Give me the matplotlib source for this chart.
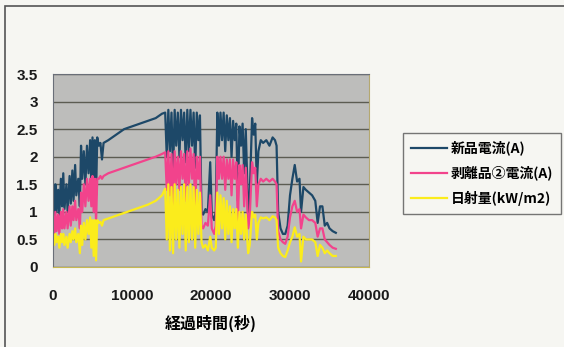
import numpy as np
import matplotlib.pyplot as plt
from matplotlib.patches import Rectangle

plt.rcParams['font.family'] = ['Noto Sans CJK JP', 'DejaVu Sans']

# 経過時間(秒)
t = [0, 150, 300, 450, 650, 800, 1000, 1150, 1300, 1450, 1700, 1850, 2100, 2250,
     2450, 2600, 2800, 2950, 3200, 3400, 3550, 3700, 3900, 4100, 4300, 4500, 4700,
     4850, 5000, 5150, 5300, 5450, 5600, 5800, 6000, 6200, 6400,
     7000, 8000, 9000, 10000, 11000, 12000, 13000, 13800, 14200,
     14400, 14600, 14800, 15000, 15200, 15400, 15600, 15800, 16000, 16200, 16400,
     16600, 16800, 17000, 17200, 17400, 17600, 17800, 18000, 18200, 18400, 18600,
     18800, 19000, 19300, 19600, 19900, 20100, 20400, 20600, 20800,
     21000, 21200, 21400, 21600, 21800, 22000, 22200, 22400, 22600, 22800, 23000,
     23200, 23400, 23600, 23800, 24000, 24200, 24400, 24700, 24900, 25200, 25400,
     25600, 25800, 26000, 26300, 26600, 27000, 27400, 27800, 28100, 28300, 28500,
     28800, 29100, 29400, 29700, 30000, 30300, 30600, 30900, 31200, 31400, 31700,
     32000, 32400, 32800, 33200, 33500, 33800, 34100, 34400, 34700, 35000, 35400,
     35800]

# 新品電流(A)
new_cur = [1.3, 0.9, 1.5, 1.0, 1.4, 0.95, 1.6, 1.1, 1.7, 1.05, 1.5, 1.0, 1.65, 1.15,
           1.75, 1.2, 1.85, 1.3, 1.6, 1.1, 2.2, 1.6, 2.1, 1.5, 2.2, 1.7, 2.3,
           1.5, 2.35, 1.6, 2.3, 1.3, 2.35, 2.2, 2.25, 1.95, 2.25,
           2.3, 2.4, 2.5, 2.55, 2.6, 2.65, 2.7, 2.78, 2.8,
           2.0, 2.85, 2.1, 2.8, 1.7, 2.85, 2.2, 2.8, 2.0, 2.85, 2.3,
           2.8, 1.9, 2.85, 2.1, 2.85, 2.2, 2.8, 1.8, 2.8, 2.3, 2.75,
           1.0, 0.95, 1.05, 1.0, 1.9, 0.95, 0.85, 1.0, 2.8,
           2.2, 2.8, 2.3, 2.8, 2.1, 2.75, 2.3, 2.7, 2.0, 2.65, 2.3,
           2.6, 1.2, 2.55, 2.2, 2.6, 1.7, 2.5, 1.0, 1.3, 2.7, 2.4,
           2.6, 1.5, 2.1, 2.3, 2.25, 2.3, 2.2, 2.35, 2.3, 2.2, 1.0,
           0.7, 0.6, 0.6, 0.75, 1.3, 1.6, 1.85, 1.55, 1.6, 1.0, 1.45,
           1.4, 1.35, 1.3, 1.2, 0.8, 1.1, 1.1, 0.75, 0.8, 0.7, 0.65,
           0.62]

# 剥離品②電流(A)
peeled_cur = [0.9, 0.6, 1.0, 0.65, 0.95, 0.6, 1.0, 0.7, 1.05, 0.7, 1.0, 0.7, 1.1, 0.75,
              1.1, 0.85, 1.2, 0.85, 1.05, 0.7, 1.35, 1.0, 1.5, 1.1, 1.6, 1.2, 1.6,
              1.1, 1.65, 1.0, 1.6, 0.8, 1.6, 1.6, 1.65, 1.6, 1.65,
              1.7, 1.75, 1.8, 1.85, 1.9, 1.95, 2.0, 2.05, 2.08,
              1.4, 2.1, 1.3, 2.05, 1.1, 2.1, 1.5, 2.0, 1.4, 2.1, 1.6,
              2.05, 1.2, 2.1, 1.5, 2.15, 1.6, 2.05, 1.0, 2.0, 1.6, 2.0,
              0.75, 0.7, 0.8, 0.75, 1.3, 0.7, 0.6, 0.75, 2.0,
              1.6, 2.0, 1.6, 2.0, 1.4, 1.95, 1.6, 1.95, 1.3, 1.95, 1.6,
              1.9, 0.8, 1.85, 1.5, 1.85, 1.1, 1.8, 0.7, 0.9, 1.9, 1.7,
              1.8, 1.1, 1.5, 1.6, 1.55, 1.6, 1.55, 1.6, 1.55, 1.5, 0.65,
              0.5, 0.45, 0.42, 0.55, 0.9, 1.1, 1.2, 1.0, 1.05, 0.7, 0.95,
              0.9, 0.85, 0.85, 0.8, 0.55, 0.7, 0.7, 0.5, 0.45, 0.4, 0.35,
              0.33]

# 日射量(kW/m2)
solar = [0.55, 0.4, 0.6, 0.45, 0.55, 0.35, 0.6, 0.45, 0.6, 0.4, 0.55, 0.35, 0.6, 0.45,
         0.65, 0.5, 0.7, 0.45, 0.6, 0.25, 0.75, 0.4, 0.8, 0.5, 0.85, 0.6, 0.9,
         0.35, 0.85, 0.2, 0.85, 0.12, 0.85, 0.8, 0.82, 0.75, 0.85,
         0.88, 0.93, 0.98, 1.03, 1.08, 1.13, 1.2, 1.3, 1.42,
         0.5, 1.5, 0.3, 1.45, 0.25, 1.5, 0.5, 1.4, 0.35, 1.45, 0.6,
         1.5, 0.3, 1.45, 0.45, 1.5, 0.5, 1.45, 0.35, 1.4, 0.6, 1.35,
         0.45, 0.35, 0.4, 0.3, 0.55, 0.35, 0.3, 0.35, 1.35,
         0.6, 1.3, 0.7, 1.25, 0.5, 1.2, 0.6, 1.1, 0.45, 1.05, 0.7,
         1.05, 0.35, 1.0, 0.6, 1.0, 0.5, 0.95, 0.25, 0.4, 1.0, 0.9,
         0.95, 0.5, 0.8, 0.9, 0.88, 0.9, 0.85, 0.92, 0.9, 0.85, 0.35,
         0.25, 0.2, 0.18, 0.3, 0.45, 0.55, 0.72, 0.55, 0.6, 0.1, 0.55,
         0.5, 0.5, 0.5, 0.45, 0.2, 0.4, 0.35, 0.25, 0.3, 0.25, 0.2,
         0.2]

labels = ['新品電流(A)', '剥離品②電流(A)', '日射量(kW/m2)']
colors = ['#1d4868', '#f2438c', '#fbec1c']

paper = '#f6f6f2'
fig = plt.figure(figsize=(5.64, 3.47), dpi=100, facecolor=paper)

# chart area frame
fig.patches.append(Rectangle((5 / 564, -0.05), 1.0, 1 - 6 / 347 + 0.05,
                             transform=fig.transFigure, fill=False,
                             edgecolor='#555555', lw=1.2))

ax = fig.add_axes([53 / 564, 1 - 267 / 347, 316 / 564, 193 / 347])
ax.set_facecolor('#bdbdbb')

ax.plot(t, new_cur, color=colors[0], lw=1.6, label=labels[0])
ax.plot(t, peeled_cur, color=colors[1], lw=1.6, label=labels[1])
ax.plot(t, solar, color=colors[2], lw=1.6, label=labels[2])

ax.set_xlim(0, 40000)
ax.set_ylim(0, 3.5)
ax.set_xticks([0, 10000, 20000, 30000, 40000])
ax.set_yticks(np.arange(0, 3.51, 0.5))
ax.set_yticklabels(['0', '0.5', '1', '1.5', '2', '2.5', '3', '3.5'])
ax.yaxis.grid(True, color='#5c5c52', lw=1.0)
ax.set_axisbelow(True)
ax.tick_params(length=0, labelsize=11, colors='#1a1a1a')
ax.tick_params(axis='x', pad=16)
ax.tick_params(axis='y', pad=11)
for lab in ax.get_xticklabels() + ax.get_yticklabels():
    lab.set_family(['Liberation Sans', 'DejaVu Sans'])
    lab.set_fontweight('bold')

for side in ['left', 'top']:
    ax.spines[side].set_color('#6a6f78')
ax.spines['right'].set_color('#b4a870')
ax.spines['bottom'].set_color('#c8b850')

ax.set_xlabel('経過時間(秒)', fontsize=11.5, fontweight='bold', labelpad=8)

leg = fig.legend(loc='upper left', bbox_to_anchor=(403 / 564, 1 - 133 / 347),
                 borderaxespad=0, fontsize=10, frameon=True, fancybox=False,
                 edgecolor='#555555', facecolor=paper, handlelength=2.6,
                 borderpad=0.55, labelspacing=0.75, handletextpad=0.3)
for txt in leg.get_texts():
    txt.set_fontweight('bold')
leg.get_frame().set_linewidth(1.0)

fig.savefig('out.png', dpi=100, facecolor=paper)
